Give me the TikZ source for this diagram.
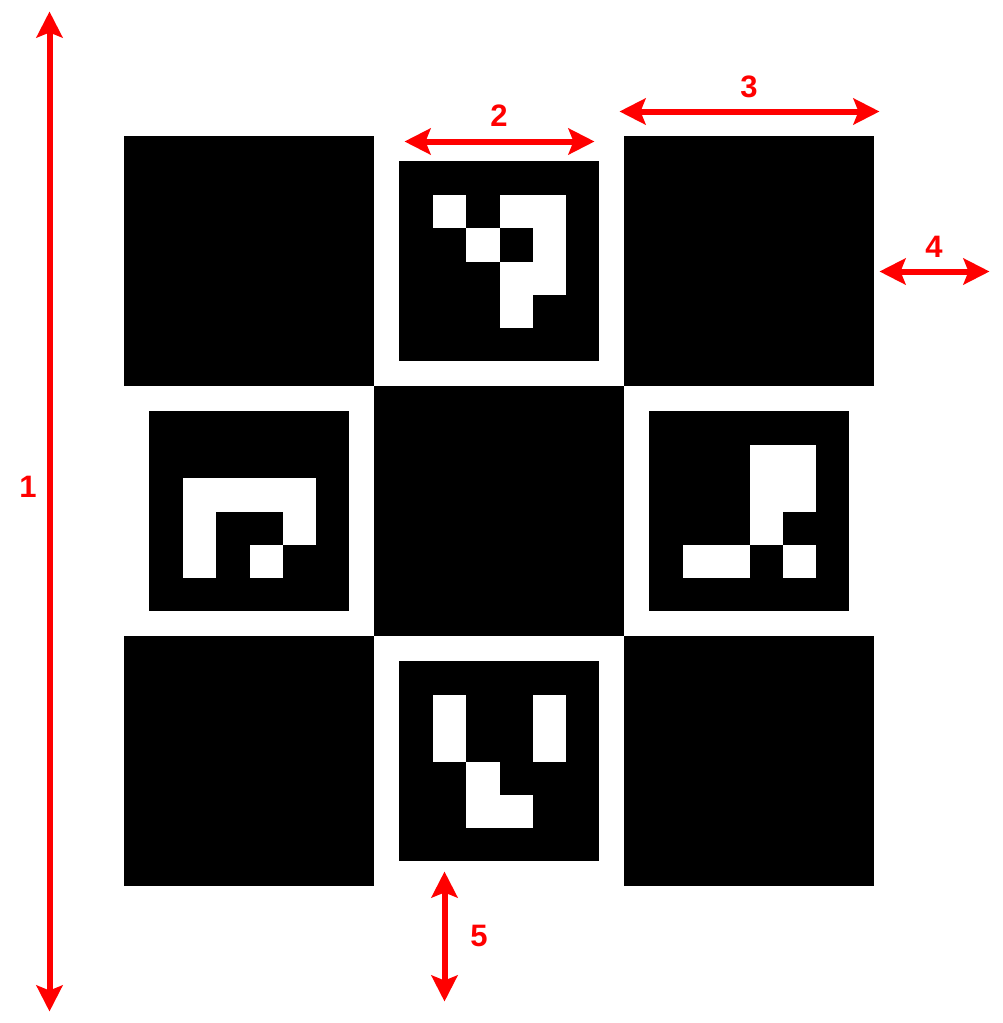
\documentclass[tikz,border=0pt]{standalone}
\usepackage{fontspec}
\setmainfont{Liberation Sans}
\usetikzlibrary{arrows.meta}
\tikzset{
  block/.style={fill=black,draw=none},
  bit/.style={fill=white,draw=none},
  measure/.style={draw=red,line width=6pt,{Stealth[length=26pt,width=26pt,inset=5pt,fill=red]}-{Stealth[length=26pt,width=26pt,inset=5pt,fill=red]}},
  dimlabel/.style={text=red,font=\fontsize{31}{31}\selectfont\bfseries,inner sep=0pt}
}
\newcommand{\markerAt}[3]{%
  \fill[block] (#1,#2) rectangle ++(200,200);
  \foreach \c/\r in {#3}{
    \fill[bit] ({#1+0.5+\c*100/3},{#2+0.5+\r*100/3}) rectangle ++(100/3,100/3);
  }%
}
\begin{document}
\begin{tikzpicture}[x=1pt,y=-1pt]
\useasboundingbox (0,0) rectangle (1003,1023);
\fill[white] (0,0) rectangle (1003,1023);
% solid squares
\fill[block] (124,136) rectangle (374,386);
\fill[block] (624,136) rectangle (874,386);
\fill[block] (374,386) rectangle (624,636);
\fill[block] (124,636) rectangle (374,886);
\fill[block] (624,636) rectangle (874,886);
% markers
\markerAt{399}{161}{1/1,3/1,4/1,2/2,4/2,3/3,4/3,3/4}
\markerAt{149}{411}{1/2,2/2,3/2,4/2,1/3,4/3,1/4,3/4}
\markerAt{649}{411}{3/1,4/1,3/2,4/2,3/3,1/4,2/4,4/4}
\markerAt{399}{661}{1/1,4/1,1/2,4/2,2/3,2/4,3/4}
% arrow ends
\coordinate (a1) at (49.5,11.5);  \coordinate (b1) at (49.5,1011.5);
\coordinate (a2) at (404.5,141.5); \coordinate (b2) at (594.5,141.5);
\coordinate (a3) at (619.5,111.5); \coordinate (b3) at (879.5,111.5);
\coordinate (a4) at (879.5,271.5); \coordinate (b4) at (989.5,271.5);
\coordinate (a5) at (444.5,871.5); \coordinate (b5) at (444.5,1001.5);
\draw[measure] (a1) -- (b1);
\draw[measure] (a2) -- (b2);
\draw[measure] (a3) -- (b3);
\draw[measure] (a4) -- (b4);
\draw[measure] (a5) -- (b5);
% labels
\node[dimlabel] (l1) at (28,487) {1};
\node[dimlabel] (l2) at (499,116) {2};
\node[dimlabel] (l3) at (749,87) {3};
\node[dimlabel] (l4) at (934,247) {4};
\node[dimlabel] (l5) at (479,936) {5};
\end{tikzpicture}
\end{document}
